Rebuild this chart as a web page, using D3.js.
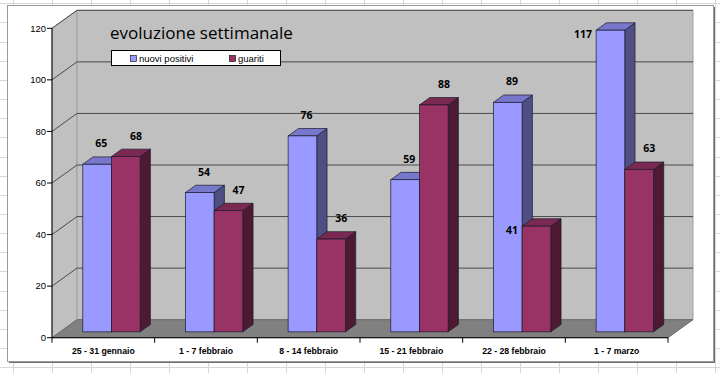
<!DOCTYPE html>
<html>
<head>
<meta charset="utf-8">
<script src="https://cdnjs.cloudflare.com/ajax/libs/d3/7.8.5/d3.min.js"></script>
<style>
  html, body { margin: 0; padding: 0; background: #ffffff; }
  svg { display: block; }
</style>
</head>
<body>
<svg id="chart" width="720" height="373"></svg>
<script>
// ---------------- data ----------------
const categories = ["25 - 31 gennaio", "1 - 7 febbraio", "8 - 14 febbraio", "15 - 21 febbraio", "22 - 28 febbraio", "1 - 7 marzo"];
const seriesNames = ["nuovi positivi", "guariti"];
const nuoviPositivi = [65, 54, 76, 59, 89, 117];
const guariti = [68, 47, 36, 88, 41, 63];
const yTicks = [0, 20, 40, 60, 80, 100, 120];
const titleText = "evoluzione settimanale";
// label placement per point ("top" or "left") – Excel moved two labels aside
const labelPlacement = [["top","top","top","top","top","left"], ["top","top","top","top","left","top"]];

const seriesValues = [nuoviPositivi, guariti];
const colors = [
  { front: "#9999ff", side: "#4f4f86", top: "#7777cc" },
  { front: "#993366", side: "#4e1a33", top: "#7a2952" }
];

// ---------------- layout ----------------
const W = 720, H = 373;
const svg = d3.select("#chart");

// spreadsheet background grid
const bg = svg.append("g");
d3.range(-1, 20).forEach(i => {
  const x = 13 + i * 39;
  bg.append("line").attr("x1", x + 0.5).attr("x2", x + 0.5).attr("y1", 0).attr("y2", H)
    .attr("stroke", "#d6d6d6").attr("stroke-width", 1);
});
d3.range(0, 21).forEach(i => {
  const y = Math.round(3.3 + i * 19.15);
  bg.append("line").attr("x1", 0).attr("x2", W).attr("y1", y + 0.5).attr("y2", y + 0.5)
    .attr("stroke", "#d6d6d6").attr("stroke-width", 1);
});

// chart area
svg.append("rect").attr("x", 9).attr("y", 7).attr("width", 706).attr("height", 356).attr("fill", "#707070");
svg.append("rect").attr("x", 7.5).attr("y", 5.5).attr("width", 706).attr("height", 356)
  .attr("fill", "#ffffff").attr("stroke", "#9a9a9a").attr("stroke-width", 1);

// scales
const x0 = 52, x1 = 668;
const x = d3.scaleBand().domain(categories).range([x0, x1]).paddingInner(0).paddingOuter(0);
const xs = d3.scaleBand().domain(seriesNames).range([0, x.bandwidth()]).paddingInner(0).paddingOuter(0.79);
const y = d3.scaleLinear().domain([0, 120]).range([337.7, 28.3]);

const DX = 25, DY = -18; // full depth offset of the walls
const zf = 0.325, zb = 0.735; // bar front/back depth fractions
const P = (px, v, z) => [px + z * DX, y(v) + z * DY];

const g = svg.append("g");
const poly = pts => pts.map(p => p.join(",")).join(" ");

// left side wall
g.append("polygon")
  .attr("points", poly([P(x0, 0, 0), P(x0, 120, 0), P(x0, 120, 1), P(x0, 0, 1)]))
  .attr("fill", "#c0c0c0").attr("stroke", "#a0a0a0").attr("stroke-width", 1);
// back wall
g.append("polygon")
  .attr("points", poly([P(x0, 0, 1), P(x0, 120, 1), P(x1, 120, 1), P(x1, 0, 1)]))
  .attr("fill", "#c0c0c0").attr("stroke", "#a0a0a0").attr("stroke-width", 1);
// floor
g.append("polygon")
  .attr("points", poly([P(x0, 0, 0), P(x1, 0, 0), P(x1, 0, 1), P(x0, 0, 1)]))
  .attr("fill", "#808080").attr("stroke", "#5a5a5a").attr("stroke-width", 0.8);

// gridlines
yTicks.filter(t => t > 0).forEach(t => {
  const a = P(x0, t, 0), b = P(x0, t, 1), c = P(x1, t, 1);
  g.append("polyline").attr("points", poly([a, b, c]))
    .attr("fill", "none").attr("stroke", "#4a4a4a").attr("stroke-width", 1);
});

// bars
categories.forEach((cat, ci) => {
  seriesNames.forEach((s, si) => {
    const v = seriesValues[si][ci];
    const L = x(cat) + xs(s), R = L + xs.bandwidth();
    const c = colors[si];
    const bar = g.append("g");
    bar.append("polygon")
      .attr("points", poly([P(R, 0, zf), P(R, v, zf), P(R, v, zb), P(R, 0, zb)]))
      .attr("fill", c.side).attr("stroke", "#1a1a2a").attr("stroke-width", 0.7).attr("stroke-linejoin", "round");
    bar.append("polygon")
      .attr("points", poly([P(L, v, zf), P(R, v, zf), P(R, v, zb), P(L, v, zb)]))
      .attr("fill", c.top).attr("stroke", "#1a1a2a").attr("stroke-width", 0.7).attr("stroke-linejoin", "round");
    const f1 = P(L, v, zf), f2 = P(R, 0, zf);
    bar.append("rect")
      .attr("x", f1[0]).attr("y", f1[1]).attr("width", f2[0] - f1[0]).attr("height", f2[1] - f1[1])
      .attr("fill", c.front).attr("stroke", "#1a1a2a").attr("stroke-width", 0.7);
  });
});

// data labels
categories.forEach((cat, ci) => {
  seriesNames.forEach((s, si) => {
    const v = seriesValues[si][ci];
    const L = x(cat) + xs(s), R = L + xs.bandwidth();
    const top = P(L, v, zf);
    let tx, ty, anchor;
    if (labelPlacement[si][ci] === "top") {
      tx = (L + R) / 2 + (zf + zb) / 2 * DX - 1 + si * 6;
      ty = top[1] - 17;
      anchor = "middle";
    } else {
      tx = top[0] - 4;
      ty = top[1] + 8;
      anchor = "end";
    }
    svg.append("text").attr("x", tx).attr("y", ty).attr("text-anchor", anchor)
      .attr("font-family", "'Open Sans', sans-serif").attr("font-weight", "bold")
      .attr("font-size", "10.5px").attr("fill", "#000").text(v);
  });
});

// y axis
const ax = svg.append("g");
ax.append("line").attr("x1", x0).attr("x2", x0).attr("y1", y(0)).attr("y2", y(120))
  .attr("stroke", "#000").attr("stroke-width", 1);
yTicks.forEach(t => {
  ax.append("line").attr("x1", x0 - 5).attr("x2", x0).attr("y1", y(t)).attr("y2", y(t))
    .attr("stroke", "#000").attr("stroke-width", 1);
  ax.append("text").attr("x", x0 - 6).attr("y", y(t) + 3.3).attr("text-anchor", "end")
    .attr("font-family", "'Liberation Sans', Arial, sans-serif").attr("font-size", "9.5px")
    .attr("fill", "#000").text(t);
});

// x axis
ax.append("line").attr("x1", x0).attr("x2", x1).attr("y1", y(0)).attr("y2", y(0))
  .attr("stroke", "#000").attr("stroke-width", 1);
[...categories.map(c => x(c)), x1].forEach(px => {
  ax.append("line").attr("x1", px).attr("x2", px).attr("y1", y(0)).attr("y2", y(0) + 5)
    .attr("stroke", "#000").attr("stroke-width", 1);
});
categories.forEach(c => {
  ax.append("text").attr("x", x(c) + x.bandwidth() / 2).attr("y", 354)
    .attr("text-anchor", "middle")
    .attr("font-family", "'Liberation Sans', Arial, sans-serif").attr("font-weight", "bold")
    .attr("font-size", "8.7px").attr("fill", "#000").text(c);
});

// title
svg.append("text").attr("x", 110).attr("y", 39)
  .attr("font-family", "'Open Sans', sans-serif").attr("font-size", "17px")
  .attr("fill", "#000").text(titleText);

// legend
const lg = svg.append("g");
lg.append("rect").attr("x", 111.5).attr("y", 50.5).attr("width", 169).attr("height", 15)
  .attr("fill", "#fff").attr("stroke", "#000").attr("stroke-width", 1);
const legendX = [130, 229];
seriesNames.forEach((s, i) => {
  lg.append("rect").attr("x", legendX[i] + 0.5).attr("y", 55.5).attr("width", 6).attr("height", 6)
    .attr("fill", colors[i].front).attr("stroke", "#000").attr("stroke-width", 0.6);
  lg.append("text").attr("x", legendX[i] + 9).attr("y", 62)
    .attr("font-family", "'Liberation Sans', Arial, sans-serif").attr("font-size", "9.5px")
    .attr("fill", "#000").text(s);
});
</script>
</body>
</html>
